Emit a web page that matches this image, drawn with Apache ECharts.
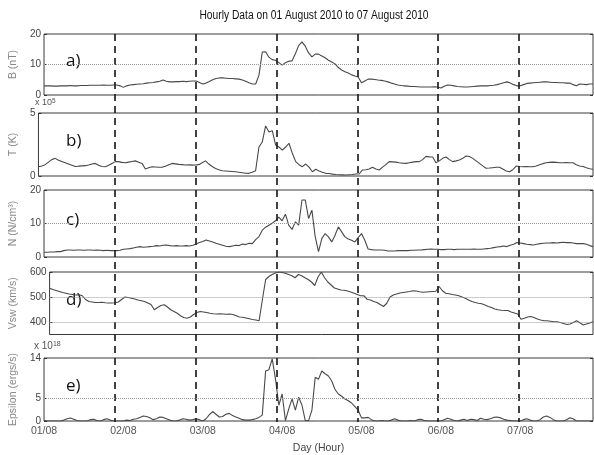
<!DOCTYPE html>
<html>
<head>
<meta charset="utf-8">
<script src="https://cdn.jsdelivr.net/npm/echarts@6/dist/echarts.min.js"></script>
<style>
  html, body { margin: 0; padding: 0; background: #fff; }
  #chart { width: 594px; height: 455px; }
</style>
</head>
<body>
<div id="chart"></div>
<script>
// Hourly solar-wind record, 01–07 August 2010 (hour 0 = 01/08 00:00)
const hours = Array.from({ length: 167 }, (_, i) => i);
const dayLabels = ['01/08', '02/08', '03/08', '04/08', '05/08', '06/08', '07/08'];
const chartTitle = 'Hourly Data on 01 August 2010 to 07 August 2010';

// a) magnetic field B (nT)
const bField = [
  3.0,3.0,3.0,2.9,2.9,3.0,3.0,3.0,3.1,3.0,3.0,3.1,
  3.1,3.1,3.2,3.2,3.2,3.2,3.3,3.2,3.2,3.3,3.3,3.0,
  2.5,3.0,3.3,3.4,3.5,3.6,3.7,3.9,4.0,4.1,4.3,4.5,
  4.9,4.5,4.3,4.3,4.4,4.4,4.5,4.4,4.5,4.6,4.6,4.1,
  3.6,3.9,4.4,5.0,5.4,5.6,5.6,5.5,5.4,5.4,5.3,5.2,
  4.9,4.5,4.0,3.6,3.6,6.5,14.1,14.2,12.4,11.6,11.4,10.6,
  9.8,10.6,11.1,11.2,13.5,16.2,17.4,16.0,13.8,12.5,13.4,13.4,
  12.8,12.2,11.4,10.8,10.2,9.0,8.2,7.6,7.2,6.6,6.2,5.9,
  4.0,4.6,5.2,5.2,5.1,4.9,4.8,4.6,4.3,3.9,3.6,3.3,
  3.1,3.0,2.9,2.8,2.8,2.7,2.6,2.6,2.6,2.6,2.7,2.6,
  2.3,2.9,3.3,3.2,3.0,2.8,2.7,2.6,2.6,2.7,2.8,2.9,
  3.0,3.0,3.0,3.1,3.2,3.4,3.7,4.0,4.3,3.9,3.4,3.0,
  3.0,3.4,3.8,3.9,4.0,4.1,4.2,4.3,4.3,4.2,4.1,4.1,
  4.0,4.0,3.9,3.9,3.4,3.0,3.6,3.5,3.4,3.6,3.6
];

// b) proton temperature T (x 10^5 K)
const temperature = [
  0.74,0.8,0.9,1.1,1.3,1.4,1.25,1.15,1.05,0.95,0.85,0.75,
  0.78,0.8,0.82,0.88,0.95,1.0,0.85,0.76,0.74,0.85,1.0,1.14,
  1.14,1.08,1.05,1.1,1.15,1.2,1.1,1.0,0.56,0.65,0.74,0.72,
  0.7,0.69,0.78,0.9,1.0,0.96,0.92,0.9,0.87,0.88,0.86,0.87,
  0.9,1.05,1.2,0.95,0.75,0.6,0.5,0.42,0.4,0.38,0.36,0.34,
  0.3,0.26,0.22,0.21,0.3,0.42,2.3,2.7,3.97,3.5,3.6,2.46,
  2.3,2.06,2.3,2.6,1.8,1.14,0.9,0.74,0.95,0.7,0.34,0.53,
  0.4,0.3,0.21,0.2,0.15,0.12,0.1,0.09,0.08,0.1,0.12,0.16,
  0.16,0.48,0.5,0.55,0.69,0.55,0.48,0.7,0.9,1.14,1.12,1.1,
  1.05,1.02,1.0,1.05,1.1,1.14,1.14,1.3,1.56,1.52,1.51,1.05,
  1.2,1.4,1.51,1.3,1.14,1.2,1.27,1.4,1.59,1.55,1.4,1.2,
  1.0,0.8,0.61,0.63,0.66,0.69,0.69,0.55,0.4,0.34,0.5,0.79,
  0.75,0.74,0.76,0.74,0.74,0.8,0.9,0.98,1.05,1.08,1.1,1.08,
  1.05,1.05,1.06,1.05,1.05,0.9,0.79,0.75,0.65,0.58,0.53
];

// c) proton density N (N/cm^3)
const density = [
  1.4,1.4,1.5,1.5,1.6,1.6,1.9,2.1,2.1,2.0,2.1,2.1,
  2.0,2.1,2.1,2.0,2.1,2.0,1.9,2.0,1.9,1.9,1.9,2.0,
  2.3,2.4,2.5,2.7,2.9,3.1,2.9,3.0,3.1,3.2,3.4,3.3,
  3.5,3.6,3.4,3.3,3.4,3.3,3.3,3.4,3.3,3.5,3.9,4.3,
  4.6,5.1,4.8,4.5,4.1,3.8,3.5,3.2,3.1,3.3,3.5,3.4,
  3.9,3.7,4.1,4.0,5.2,6.1,8.0,8.9,9.5,10.1,10.8,11.9,
  10.8,12.8,9.5,8.2,10.5,9.5,17.0,17.0,11.5,14.0,6.1,1.6,
  5.5,7.0,6.0,4.5,6.5,9.0,7.5,6.0,5.4,5.0,4.5,5.8,
  7.0,5.0,2.4,2.2,2.1,2.1,2.1,2.0,1.8,1.8,1.8,1.9,
  1.9,1.9,1.9,2.0,2.0,2.1,2.1,2.2,2.3,2.4,2.3,2.3,
  2.2,2.2,2.3,2.3,2.2,2.3,2.3,2.3,2.3,2.3,2.4,2.3,
  2.3,2.4,2.5,2.6,2.8,3.0,3.1,3.3,3.1,3.5,3.8,4.3,
  4.2,4.0,3.8,3.7,3.6,3.8,4.0,4.1,4.2,4.2,4.3,4.2,
  4.3,4.4,4.3,4.3,4.2,4.0,4.0,4.0,3.8,3.4,3.1
];

// d) solar wind speed Vsw (km/s)
const speed = [
  535,530,526,522,518,515,512,510,508,509,505,490,
  482,480,478,478,479,477,476,476,477,480,490,500,
  498,495,492,488,485,482,476,470,449,458,466,469,
  460,449,442,435,425,418,415,420,430,438,442,440,
  438,435,433,432,433,432,431,432,430,425,420,419,
  416,413,410,408,405,489,570,582,590,596,600,598,
  595,590,585,577,590,585,577,570,560,546,580,600,
  577,560,548,536,532,528,527,524,520,515,510,505,
  505,491,488,482,478,470,462,475,500,508,512,516,
  518,520,522,525,524,521,519,520,521,522,523,542,
  525,515,513,510,508,505,500,495,488,482,478,475,
  473,468,462,458,452,449,447,446,446,440,436,432,
  411,415,420,422,418,412,408,405,405,403,401,401,
  398,394,390,392,398,405,397,388,392,396,401
];

// e) energy coupling Epsilon (x 10^18 ergs/s)
const epsilon = [
  0.1,0,0,0,0,0,0.2,0.5,0.65,0.4,0.1,0,
  0,0,0.3,0.4,0.1,0,0.3,0.5,0.2,0,0,0,
  0,0.2,0.1,0.4,0.5,0.8,1.1,1.0,0.7,0.3,0.5,0.9,
  0.8,0.5,0.2,0,0,0.2,0.5,0.4,0.2,0.3,0.5,0.3,
  0,0.5,1.4,2.1,1.5,0.9,1.0,1.5,1.7,1.2,0.9,0.6,
  0.3,0.2,0.2,0.3,0.5,0.8,1.3,11.1,11.4,13.8,9.3,3.5,
  6.0,0.1,2.7,4.9,2.4,5.3,3.5,0.1,0.1,2.4,9.7,9.3,
  11.1,10.5,10.0,8.9,7.0,6.0,5.5,4.9,4.5,4.0,3.2,2.4,
  0.7,0.7,0.8,0.3,0,0,0.1,0,0,0.2,0.5,0.2,
  0,0,0,0.1,0,0.3,0.4,0.1,0,0,0,0,
  0,0.3,0.6,0.4,0.1,0,0.2,0.4,0.1,0.4,0.3,0.1,
  0.6,0.4,0.3,0.5,0.8,0.9,0.7,0.4,0.2,0.1,0,0,
  0,0.3,0.5,0.2,0,0,0.3,0.9,1.1,0.8,0.3,0,
  0,0,0.3,0.7,0.5,0,0,0,0,0,0
];

const bTicks = [0, 10, 20];
const tTicks = [0, 5];
const nTicks = [0, 10, 20];
const vTicks = [400, 500, 600];
const eTicks = [0, 5, 14];

const FONT = "'Liberation Sans Narrow','Arial Narrow','Liberation Sans',Arial,sans-serif";
const LEFT = 34, RIGHT = 1, X_MAX = 166;

const panels = [
  { top: 34,  height: 61,   min: 0,   max: 20,  ticks: bTicks, refs: [10],       name: 'B (nT)',           data: bField,      letter: 'a)' },
  { top: 113, height: 63,   min: 0,   max: 5,   ticks: tTicks, refs: [],         name: 'T (K)',            data: temperature, letter: 'b)' },
  { top: 190, height: 67,   min: 0,   max: 20,  ticks: nTicks, refs: [10],       name: 'N (N/cm\u00B3)',   data: density,     letter: 'c)' },
  { top: 272, height: 62.5, min: 350, max: 600, ticks: vTicks, refs: [400, 500], name: 'Vsw (km/s)',       data: speed,       letter: 'd)' },
  { top: 358, height: 64,   min: 0,   max: 14,  ticks: eTicks, refs: [5],        name: 'Epsilon (ergs/s)', data: epsilon,     letter: 'e)' }
];

const dayTicks = dayLabels.map((_, i) => i * 24);
const grid = [], xAxis = [], yAxis = [], series = [], graphic = [];

panels.forEach((p, i) => {
  const last = i === panels.length - 1;
  grid.push({ left: LEFT, right: RIGHT, top: p.top, height: p.height, show: true,
              borderColor: '#3a3a3a', borderWidth: 1 });
  xAxis.push({
    type: 'value', gridIndex: i, min: 0, max: X_MAX,
    axisLine: { show: false }, axisTick: { show: false }, splitLine: { show: false },
    axisLabel: {
      show: last, customValues: dayTicks, margin: 5,
      formatter: v => dayLabels[Math.round(v / 24)] || '',
      color: '#555', fontSize: 10.5, fontFamily: FONT
    },
    name: last ? 'Day (Hour)' : '', nameLocation: 'middle', nameGap: 22,
    nameTextStyle: { color: '#444', fontSize: 10.5, fontFamily: FONT }
  });
  // left axis with labels
  yAxis.push({
    type: 'value', gridIndex: i, min: p.min, max: p.max, position: 'left',
    axisLine: { show: false }, splitLine: { show: false },
    axisTick: { show: true, inside: true, length: 3, customValues: p.ticks, lineStyle: { color: '#333' } },
    axisLabel: { customValues: p.ticks, margin: 3, color: '#444', fontSize: 10, fontFamily: FONT },
    name: p.name, nameLocation: 'middle', nameGap: 15,
    nameTextStyle: { color: '#888', fontSize: 10.5, fontFamily: "'Liberation Sans',Arial,sans-serif" }
  });
  // right axis: tick marks only
  yAxis.push({
    type: 'value', gridIndex: i, min: p.min, max: p.max, position: 'right',
    axisLine: { show: false }, splitLine: { show: false }, axisLabel: { show: false },
    axisTick: { show: true, inside: true, length: 3, customValues: p.ticks, lineStyle: { color: '#333' } }
  });
  series.push({
    type: 'line', xAxisIndex: i, yAxisIndex: i * 2,
    data: hours.map((h, k) => [h, p.data[k]]),
    showSymbol: false, silent: true,
    lineStyle: { color: '#484848', width: 1.1 },
    markLine: {
      silent: true, symbol: 'none', label: { show: false },
      lineStyle: { type: 'dotted', color: '#9a9a9a', width: 1 },
      data: p.refs.map(v => ({ yAxis: v }))
    }
  });
  graphic.push({
    type: 'text', left: 66, top: p.top + p.height / 2 - 12,
    style: { text: p.letter, fontSize: 17, fontFamily: "'Open Sans',sans-serif", fill: '#111' }
  });
});

// overlay spanning all panels: dashed day separators
const ov = panels.length;
grid.push({ left: LEFT, right: RIGHT, top: 34, bottom: 455 - 422, show: false });
xAxis.push({
  type: 'value', gridIndex: ov, min: 0, max: X_MAX, interval: 24,
  axisLine: { show: false }, axisTick: { show: false }, axisLabel: { show: false },
  splitLine: { show: true, showMinLine: false, showMaxLine: false,
               lineStyle: { color: '#222', width: 1.7, type: [7, 5] } },
  z: 5
});
yAxis.push({ type: 'value', gridIndex: ov, show: false, min: 0, max: 1 });

// condensed title centred over the plot area
graphic.push({
  type: 'text', x: 314, y: 16, scaleX: 0.82,
  style: { text: chartTitle, fontSize: 12.5, fontFamily: FONT, fill: '#111',
           align: 'center', verticalAlign: 'middle' }
});

// power-of-ten notes above panels b and e
graphic.push({
  type: 'text', left: 35, top: 98,
  style: { text: 'x 10{s|5}', fontSize: 9, fontFamily: FONT, fill: '#555',
           rich: { s: { fontSize: 6.5, verticalAlign: 'top', fill: '#555', fontFamily: FONT } } }
});
graphic.push({
  type: 'text', left: 34, top: 341,
  style: { text: 'x 10{s|18}', fontSize: 10, fontFamily: FONT, fill: '#555',
           rich: { s: { fontSize: 7, verticalAlign: 'top', fill: '#555', fontFamily: FONT } } }
});

const chart = echarts.init(document.getElementById('chart'), null, { renderer: 'canvas' });
chart.setOption({
  animation: false,
  backgroundColor: '#fff',
  grid, xAxis, yAxis, series, graphic
});
</script>
</body>
</html>
